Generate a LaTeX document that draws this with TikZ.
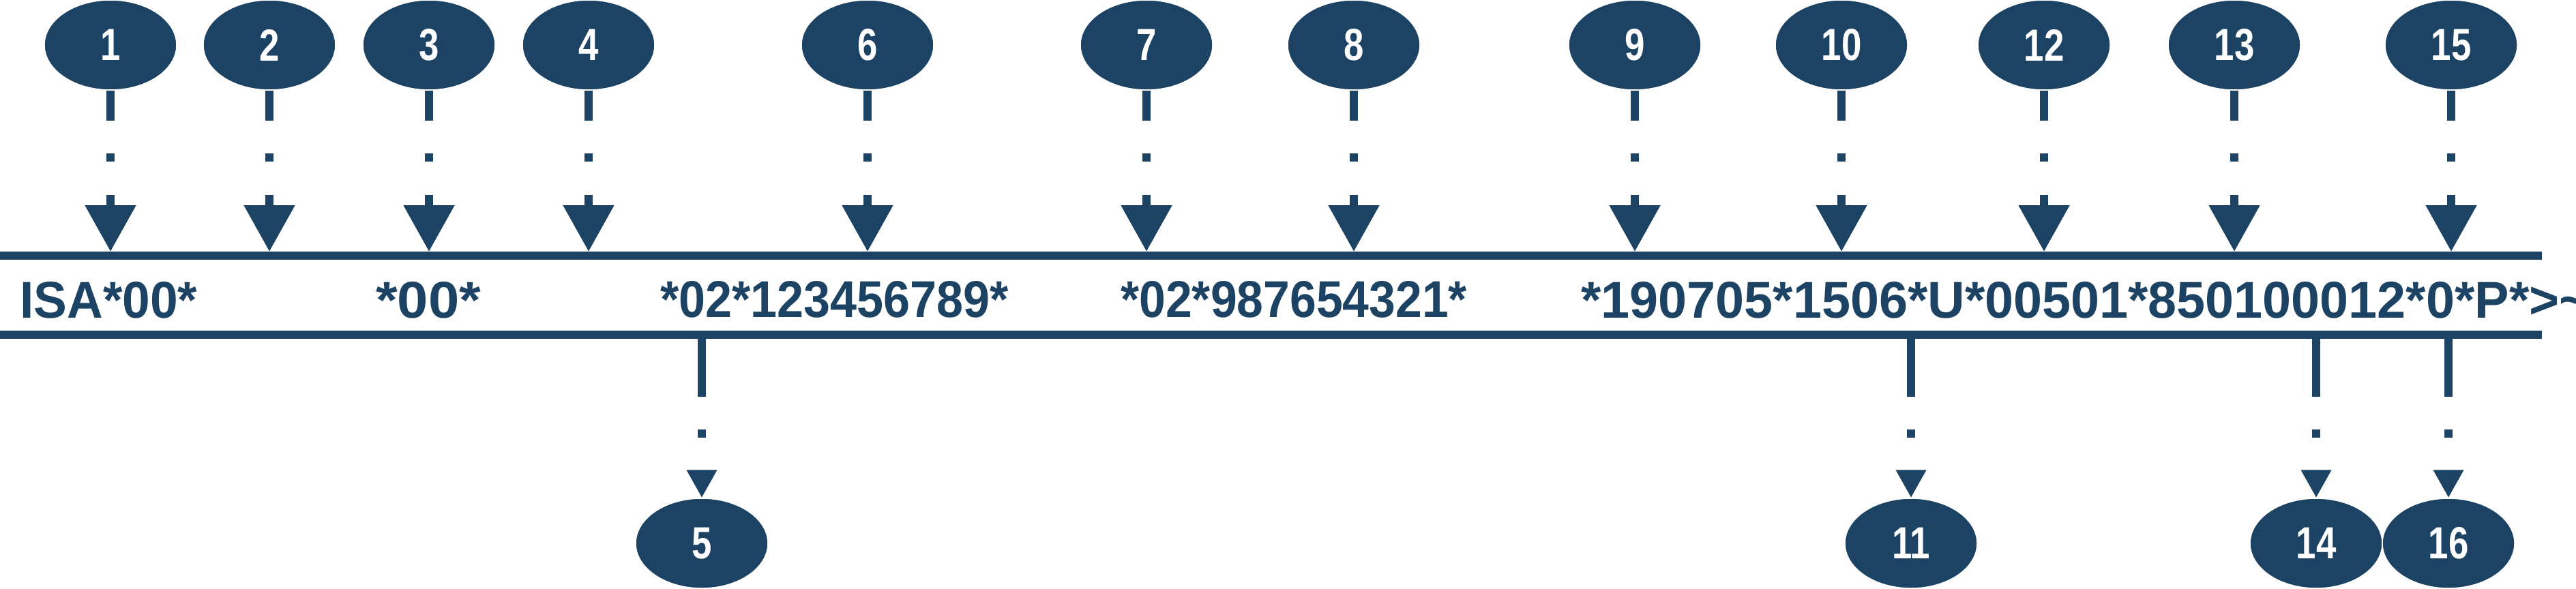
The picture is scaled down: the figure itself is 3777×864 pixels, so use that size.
\documentclass[tikz,border=0pt]{standalone}
\usepackage{fontspec}
\setmainfont{Liberation Sans}[FakeStretch=0.8]
\usetikzlibrary{shapes.geometric,arrows.meta}
\definecolor{navy}{RGB}{28,67,99}
\begin{document}
\begin{tikzpicture}[x=1pt,y=-1pt,
  bub/.style={ellipse,fill=navy,draw=white,line width=1.5pt,minimum width=194pt,minimum height=132pt,inner sep=0pt,text=white,font=\fontsize{66}{66}\selectfont\bfseries},
  down/.style={draw=navy,line width=12pt,dash pattern=on 44pt off 48pt on 12pt off 49pt on 200pt,-{Triangle[width=72pt,length=68pt]}},
  up/.style={draw=navy,line width=12pt,dash pattern=on 85pt off 48pt on 12pt off 48pt on 200pt,-{Triangle[width=42pt,length=41pt]}},
  bar/.style={draw=navy,line width=12pt},
  seg/.style={inner sep=0pt,anchor=south west,text=navy}]
\useasboundingbox (0,0) rectangle (3777,864);
\coordinate (L1a) at (0,375); \coordinate (L1b) at (3727,375);
\coordinate (L2a) at (0,491); \coordinate (L2b) at (3727,491);
\draw[bar] (L1a) -- (L1b);
\draw[bar] (L2a) -- (L2b);
\foreach \n/\x in {1/162,2/395,3/629,4/863,6/1272,7/1681,8/1985,9/2397,10/2700,12/2997,13/3276,15/3594}{
  \node[bub] (e\n) at (\x,66) {\n};
  \coordinate (t\n) at (\x,369);
  \draw[down] (e\n.south) -- (t\n);
}
\foreach \n/\x in {5/1029,11/2802,14/3396,16/3590}{
  \node[bub] (e\n) at (\x,797) {\n};
  \coordinate (b\n) at (\x,497);
  \draw[up] (b\n) -- (e\n.north);
}
\node[seg] (s1) at (29,467) {\resizebox{260pt}{53pt}{\bfseries ISA*00*}};
\node[seg] (s2) at (551,467) {\resizebox{154pt}{53pt}{\bfseries *00*}};
\node[seg] (s3) at (968,467) {\resizebox{511pt}{53pt}{\bfseries *02*123456789*}};
\node[seg] (s4) at (1643,467) {\resizebox{508pt}{53pt}{\bfseries *02*987654321*}};
\node[seg] (s5) at (2318,467) {\resizebox{1478pt}{53pt}{\bfseries *190705*1506*U*00501*850100012*0*P*>\~{}}};
\end{tikzpicture}
\end{document}
